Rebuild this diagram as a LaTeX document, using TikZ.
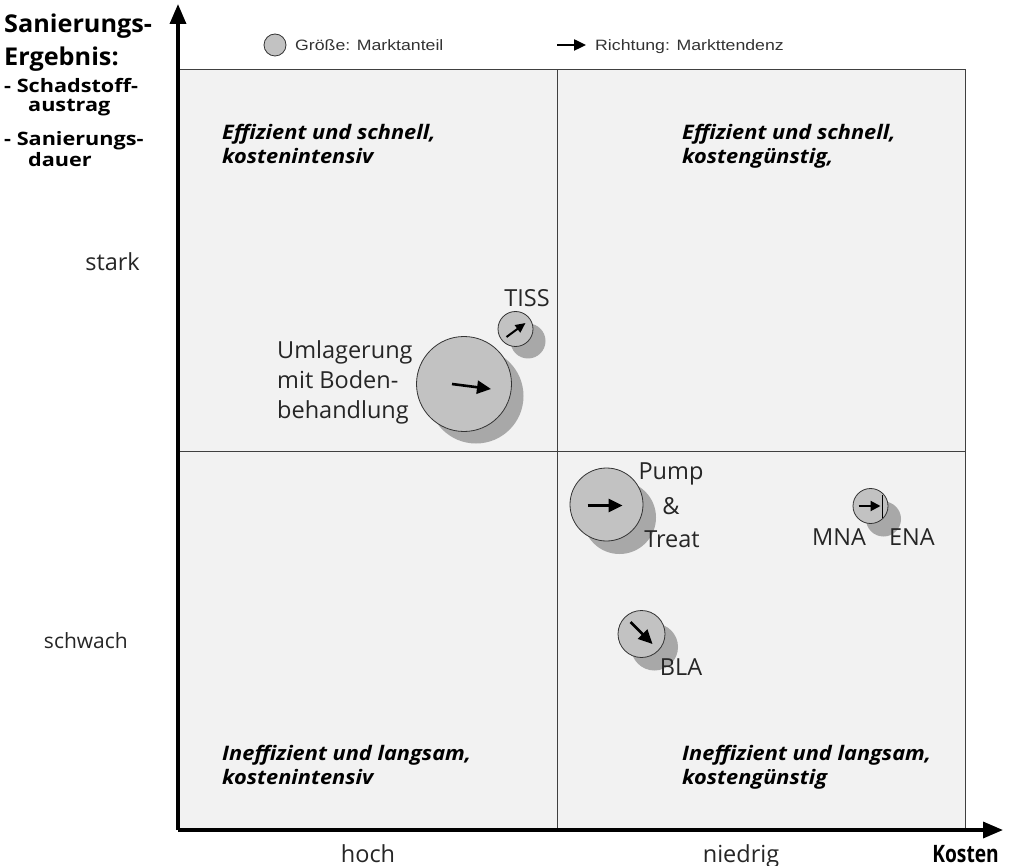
\documentclass[tikz,border=0pt]{standalone}
\usepackage{fontspec}
\setmainfont{Open Sans}
\newfontfamily\legfont[FakeStretch=1.18]{Liberation Sans}
\newfontfamily\wideb[FakeStretch=1.09]{Open Sans}
\newfontfamily\widec[FakeStretch=1.17]{Open Sans}
\newfontfamily\widet[FakeStretch=1.03]{Open Sans}
\newfontfamily\narrowk[FakeStretch=0.8]{Open Sans}
\usetikzlibrary{arrows.meta}
\definecolor{panel}{HTML}{F2F2F2}
\definecolor{bubble}{HTML}{C2C2C2}
\definecolor{shade}{HTML}{A8A8A8}
\definecolor{rim}{HTML}{333333}
\tikzset{
  axis/.style={line width=3.4pt,-{Triangle[length=20pt,width=16pt]}},
  grid/.style={line width=1pt,draw=black!75},
  bub/.style={circle,fill=bubble,draw=rim,line width=0.8pt,inner sep=0pt},
  shd/.style={circle,fill=shade,inner sep=0pt},
  trend/.style={line width=2.6pt,-{Triangle[length=14pt,width=13pt]}},
  lab/.style={font=\fontsize{23.5}{34}\selectfont,text=black!85,inner sep=0pt},
  quad/.style={font=\wideb\fontsize{20}{24}\selectfont\bfseries\itshape,align=left,anchor=north west,inner sep=0pt},
  sub/.style={font=\widec\fontsize{18.5}{20}\selectfont\bfseries,anchor=base west,inner sep=0pt},
  ttl/.style={font=\widet\fontsize{24.5}{30}\selectfont\bfseries,anchor=base west,inner sep=0pt},
  leg/.style={font=\legfont\fontsize{15}{17}\selectfont,text=black!80,anchor=base west,inner sep=0pt},
}
\begin{document}
\begin{tikzpicture}[x=1pt,y=-1pt]
\useasboundingbox (0,0) rectangle (1009,866);
% panel
\fill[panel] (178,70) rectangle (965,830);
\coordinate (tl) at (178,70);
\coordinate (tr) at (965,70);
\coordinate (br) at (965,830);
\coordinate (mt) at (557,70);
\coordinate (mb) at (557,830);
\coordinate (ml) at (178,451);
\coordinate (mr) at (965,451);
\draw[grid] (tl) -- (tr) -- (br);
\draw[grid] (mt) -- (mb);
\draw[grid] (ml) -- (mr);
% axes
\coordinate (O) at (178,830);
\coordinate (ytip) at (178,4);
\coordinate (xtip) at (1003,830);
\draw[axis] (O) -- (ytip);
\draw[axis] (O) -- (xtip);
% axis title
\node[ttl] (yt1) at (4,33) {Sanierungs-};
\node[ttl] (yt2) at (4,66) {Ergebnis:};
\node[sub] (ys1) at (4,93) {- Schadstoff-};
\node[sub] (ys2) at (28,112) {austrag};
\node[sub] (ys3) at (4,146) {- Sanierungs-};
\node[sub] (ys4) at (28,167) {dauer};
\node[lab,anchor=base east] (stark) at (140,271) {stark};
\node[lab,anchor=base east,font=\fontsize{21}{30}\selectfont] (schwach) at (128,648) {schwach};
\node[lab,anchor=base] (hoch) at (368,862) {hoch};
\node[lab,anchor=base] (niedrig) at (741,862) {niedrig};
\node[anchor=base east,inner sep=0pt,font=\narrowk\fontsize{24}{26}\selectfont\bfseries] (kosten) at (999,862) {Kosten};
% legend
\node[bub,minimum size=22pt] (legc) at (275,45) {};
\node[leg] (legt1) at (295,50.5) {Größe: Marktanteil};
\coordinate (la1) at (557,45);
\coordinate (la2) at (586,45);
\draw[trend,line width=2.4pt,-{Triangle[length=12pt,width=11pt]}] (la1) -- (la2);
\node[leg] (legt2) at (595,50.5) {Richtung: Markttendenz};
% quadrant labels
\node[quad] (q1) at (222,124) {Effizient und schnell,\\kostenintensiv};
\node[quad] (q2) at (682,124) {Effizient und schnell,\\kostengünstig,};
\node[quad] (q3) at (222,745) {Ineffizient und langsam,\\kostenintensiv};
\node[quad] (q4) at (682,745) {Ineffizient und langsam,\\kostengünstig};
% Umlagerung
\node[shd,minimum size=95pt] at (476,396) {};
\node[bub,minimum size=95pt] (uml) at (464,384) {};
\draw[trend] ([shift={(-12,0)}]uml.center) -- ([shift={(27,5)}]uml.center);
\node[lab,align=left,anchor=west,font=\fontsize{23.5}{30}\selectfont] (umlt) at (277,382) {Umlagerung\\mit Boden-\\behandlung};
% TISS
\node[shd,minimum size=35pt] at (528,341) {};
\node[bub,minimum size=35pt] (tiss) at (515.5,329) {};
\draw[trend,line width=2pt,-{Triangle[length=10pt,width=9pt]}] ([shift={(-9,8)}]tiss.center) -- ([shift={(10,-6)}]tiss.center);
\node[lab,anchor=base] (tisst) at (527,307) {TISS};
% Pump & Treat
\node[shd,minimum size=73pt] at (619.5,517.5) {};
\node[bub,minimum size=73pt] (pt) at (606.5,504.5) {};
\draw[trend] ([shift={(-19,1)}]pt.center) -- ([shift={(16,1)}]pt.center);
\node[lab,anchor=base] (ptt1) at (671,479) {Pump};
\node[lab,anchor=base] (ptt2) at (671,514) {\&};
\node[lab,anchor=base] (ptt3) at (672,547) {Treat};
% MNA / ENA
\node[shd,minimum size=35pt] at (883.5,519) {};
\node[bub,minimum size=35pt] (mna) at (870.5,506) {};
\draw[trend,line width=2pt,-{Triangle[length=10pt,width=10pt]}] ([shift={(-12,0)}]mna.center) -- ([shift={(10,0)}]mna.center);
\draw[line width=1.3pt] ([shift={(12,-11)}]mna.center) -- ([shift={(12,12)}]mna.center);
\node[lab,anchor=base] (mnat) at (839,545) {MNA};
\node[lab,anchor=base] (enat) at (912,545) {ENA};
% BLA
\node[shd,minimum size=47pt] at (654.5,647) {};
\node[bub,minimum size=47pt] (bla) at (641.5,634) {};
\draw[trend] ([shift={(-11,-12)}]bla.center) -- ([shift={(11,10)}]bla.center);
\node[lab,anchor=base] (blat) at (681,675) {BLA};
\end{tikzpicture}
\end{document}
